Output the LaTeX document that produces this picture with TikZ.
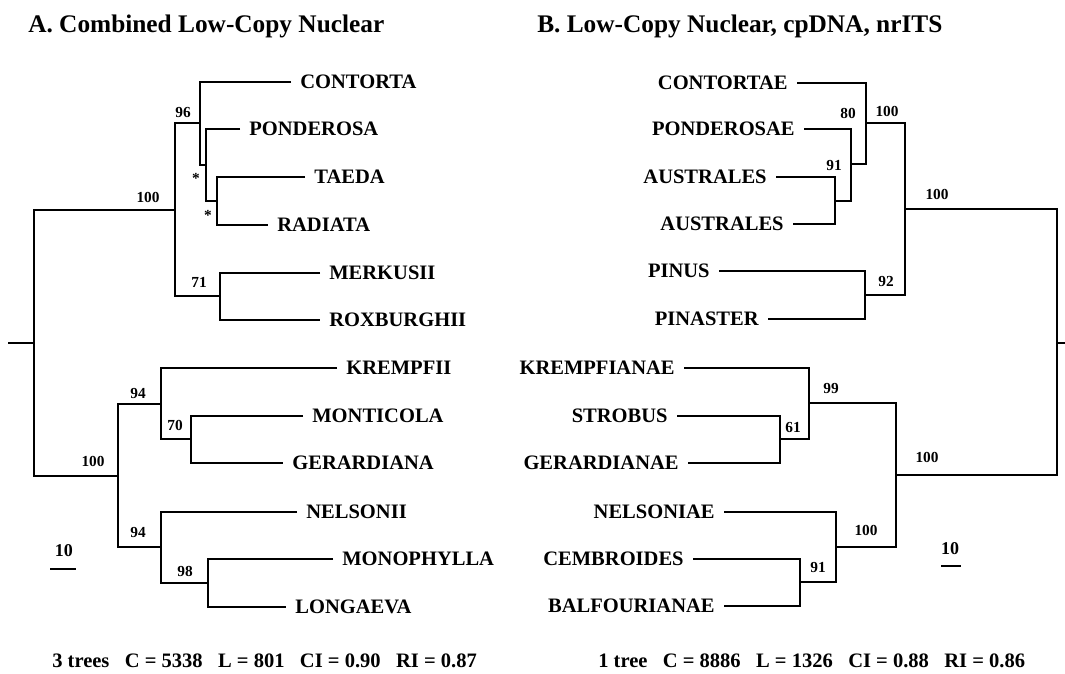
\documentclass[tikz,border=0pt]{standalone}
\usepackage{fontspec}
\setmainfont{Liberation Serif}
\newcommand{\statgap}{\hspace{0.75em}}

\begin{document}
\begin{tikzpicture}[
  x=0.75pt, y=-0.75pt,
  branch/.style={line width=1.5pt},
  taxon/.style={font=\fontsize{15.4}{18}\selectfont\bfseries, inner sep=0pt, outer sep=7pt},
  support/.style={font=\fontsize{11.5}{13}\selectfont\bfseries, inner sep=0pt},
  heading/.style={font=\fontsize{19}{22}\selectfont\bfseries, inner sep=0pt, anchor=base west},
  stats/.style={font=\fontsize{15.4}{18}\selectfont\bfseries, inner sep=0pt, anchor=base west},
  scalebar/.style={font=\fontsize{13.5}{16}\selectfont\bfseries, inner sep=0pt},
]
\useasboundingbox (0,0) rectangle (1065,674);

\node[heading] (titleA) at (28,33) {A. Combined Low-Copy Nuclear};
\node[heading] (titleB) at (537,33) {B. Low-Copy Nuclear, cpDNA, nrITS};

\foreach \n/\x/\y/\t in {contorta/291/82/CONTORTA, ponderosa/240/129/PONDEROSA,
    taeda/305/177/TAEDA, radiata/268/225/RADIATA, merkusii/320/273/MERKUSII,
    roxburghii/320/320/ROXBURGHII, krempfii/337/368/KREMPFII, monticola/303/416/MONTICOLA,
    gerardiana/283/463/GERARDIANA, nelsonii/297/512/NELSONII, monophylla/333/559/MONOPHYLLA,
    longaeva/286/607/LONGAEVA}
  \node[taxon, anchor=west] (\n) at (\x,\y) {\t};

\foreach \n/\x/\y/\t in {contortae/797/83/CONTORTAE, ponderosae/804/129/PONDEROSAE,
    australesA/776/177/AUSTRALES, australesB/793/224/AUSTRALES, pinus/719/271/PINUS,
    pinaster/768/319/PINASTER, krempfianae/684/368/KREMPFIANAE, strobus/677/416/STROBUS,
    gerardianae/688/463/GERARDIANAE, nelsoniae/724/512/NELSONIAE, cembroides/693/559/CEMBROIDES,
    balfourianae/724/606/BALFOURIANAE}
  \node[taxon, anchor=east] (\n) at (\x,\y) {\t};

\coordinate (stubA) at (8,343);
\coordinate (rootA) at (34,343);
\coordinate (a100u) at (175,210);
\coordinate (a96) at (200,123);
\coordinate (aS1) at (206,165);
\coordinate (aS2) at (217,201);
\coordinate (a71) at (220,296);
\coordinate (a100l) at (118,476);
\coordinate (a94u) at (161,404);
\coordinate (a70) at (191,439);
\coordinate (a94l) at (161,547);
\coordinate (a98) at (208,583);

\coordinate (stubB) at (1065,343);
\coordinate (rootB) at (1057,343);
\coordinate (b100u) at (905,209);
\coordinate (bC) at (866,123);
\coordinate (b80) at (851,164);
\coordinate (b91) at (835,201);
\coordinate (b92) at (865,295);
\coordinate (b100l) at (896,475);
\coordinate (b99) at (809,403);
\coordinate (b61) at (780,439);
\coordinate (b100ll) at (836,547);
\coordinate (b91l) at (800,582);

\draw[branch] (stubA) -- (rootA);
\draw[branch] (rootB) -- (stubB);

\foreach \u/\p/\l in {a100u/rootA/a100l, a96/a100u/a71, contorta/a96/aS1,
    ponderosa/aS1/aS2, taeda/aS2/radiata, merkusii/a71/roxburghii,
    a94u/a100l/a94l, krempfii/a94u/a70, monticola/a70/gerardiana,
    nelsonii/a94l/a98, monophylla/a98/longaeva,
    b100u/rootB/b100l, bC/b100u/b92, contortae/bC/b80, ponderosae/b80/b91,
    australesA/b91/australesB, pinus/b92/pinaster, b99/b100l/b100ll,
    krempfianae/b99/b61, strobus/b61/gerardianae, nelsoniae/b100ll/b91l,
    cembroides/b91l/balfourianae}
  \draw[branch] (\u) -| (\p) |- (\l);

\foreach \n/\x/\y/\t in {sA100u/148/197/100, sA96/183/112/96, sAst1/196/178/*,
    sAst2/208/215/*, sA71/199/282/71, sA100l/93/461/100, sA94u/138/393/94,
    sA70/175/425/70, sA94l/138/532/94, sA98/185/571/98,
    sB80/848/113/80, sB100c/887/111/100, sB91/834/165/91, sB92/886/281/92,
    sB100u/937/194/100, sB99/831/388/99, sB61/793/427/61, sB91l/818/567/91,
    sB100ll/866/530/100, sB100l/927/457/100}
  \node[support] (\n) at (\x,\y) {\t};

\node[scalebar] (tenA) at (64,551) {10};
\coordinate (barA1) at (50,569);
\coordinate (barA2) at (76,569);
\draw[branch] (barA1) -- (barA2);
\node[scalebar] (tenB) at (950,549) {10};
\coordinate (barB1) at (941,566);
\coordinate (barB2) at (961,566);
\draw[branch] (barB1) -- (barB2);

\node[stats] (statsA) at (52,667) {3 trees\statgap C = 5338\statgap L = 801\statgap CI = 0.90\statgap RI = 0.87};
\node[stats] (statsB) at (598,667) {1 tree\statgap C = 8886\statgap L = 1326\statgap CI = 0.88\statgap RI = 0.86};
\end{tikzpicture}
\end{document}
